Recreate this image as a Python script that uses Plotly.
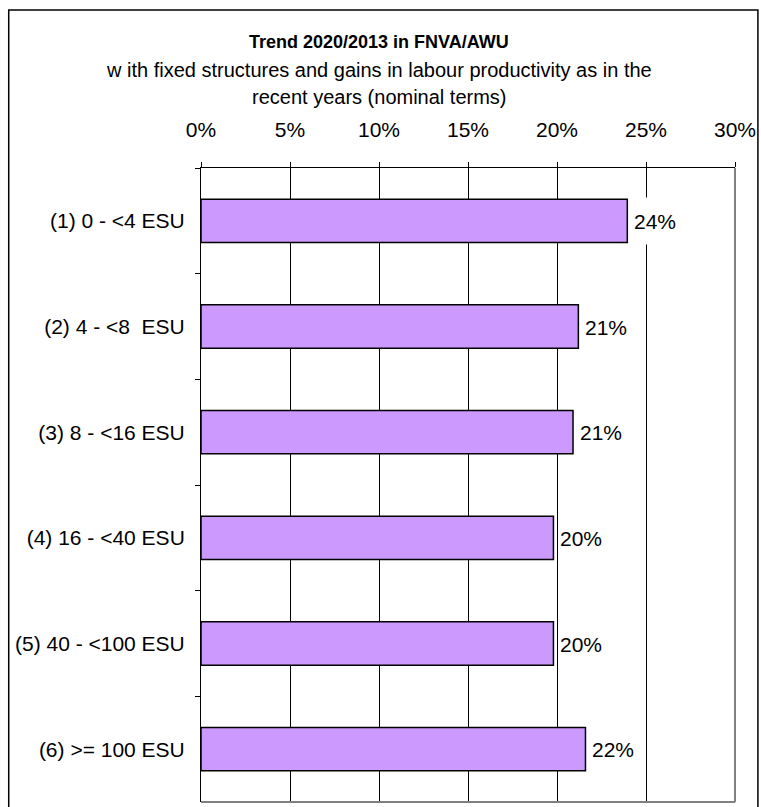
import plotly.graph_objects as go

# Size classes (ESU) and the 2020/2013 change in FNVA/AWU
classes = [
    "(1) 0 - <4 ESU",
    "(2) 4 - <8  ESU",
    "(3) 8 - <16 ESU",
    "(4) 16 - <40 ESU",
    "(5) 40 - <100 ESU",
    "(6) >= 100 ESU",
]
trend = [0.2395, 0.212, 0.209, 0.198, 0.198, 0.216]
x_ticks = [0, 0.05, 0.10, 0.15, 0.20, 0.25, 0.30]

title_main = "Trend 2020/2013 in FNVA/AWU"
subtitle_1 = "w ith fixed structures and gains in labour productivity as in the"
subtitle_2 = "recent years (nominal terms)"

FONT = "Liberation Sans, Arial, sans-serif"
FS = 21
W, H = 761, 807
L, R, T, B = 201, 24, 168, 5
PW, PH = W - L - R, H - T - B


def px_x(p):
    return (p - L) / PW


def px_y(p):
    return (H - B - p) / PH


fig = go.Figure(
    go.Bar(
        x=trend,
        y=classes,
        orientation="h",
        marker=dict(color="#cc99ff", line=dict(color="#000000", width=1.5)),
        hoverinfo="skip",
    )
)

# value labels on a white box, right of each bar
for cls, val in zip(classes, trend):
    fig.add_annotation(
        x=val, y=cls, xref="x", yref="y",
        text=f"{val:.0%}", showarrow=False,
        xanchor="left", yanchor="middle", xshift=5,
        bgcolor="#ffffff", borderpad=1, height=44,
        font=dict(family=FONT, size=FS, color="#000000"),
    )

fig.update_layout(
    width=W,
    height=H,
    margin=dict(l=L, r=R, t=T, b=B),
    paper_bgcolor="#ffffff",
    plot_bgcolor="#ffffff",
    showlegend=False,
    bargap=0.59,
    font=dict(family=FONT, size=FS, color="#000000"),
)

fig.update_xaxes(
    side="top",
    range=[0, 0.30],
    tickvals=x_ticks,
    tickformat=".0%",
    showgrid=True,
    gridcolor="#000000",
    gridwidth=1,
    zeroline=False,
    showline=True,
    linecolor="#000000",
    linewidth=1,
    ticks="outside",
    ticklen=5,
    tickcolor="#000000",
    ticklabelstandoff=17,
    tickfont=dict(family=FONT, size=FS),
)

fig.update_yaxes(
    autorange="reversed",
    showgrid=False,
    zeroline=False,
    showline=True,
    linecolor="#000000",
    linewidth=1,
    ticks="outside",
    tickson="boundaries",
    ticklen=5,
    tickcolor="#000000",
    ticklabelstandoff=11,
    tickfont=dict(family=FONT, size=FS),
)

# grey right and bottom edges of the plot area
fig.add_shape(type="line", xref="paper", yref="paper", x0=1, x1=1, y0=0, y1=1,
              line=dict(color="#808080", width=2), layer="above")
fig.add_shape(type="line", xref="paper", yref="paper", x0=0, x1=1, y0=0, y1=0,
              line=dict(color="#808080", width=2), layer="above")

# chart frame (left, top, right)
fx0, fx1 = px_x(8), px_x(760)
fy_top, fy_bot = px_y(10), px_y(812)
fig.add_shape(type="path", xref="paper", yref="paper",
              path=f"M {fx0} {fy_bot} L {fx0} {fy_top} L {fx1} {fy_top} L {fx1} {fy_bot}",
              line=dict(color="#000000", width=1.5), layer="above")

cx = px_x(380)
fig.add_annotation(text=f"<b>{title_main}</b>", x=cx, y=px_y(42), xref="paper", yref="paper",
                   showarrow=False, xanchor="center", yanchor="middle",
                   font=dict(family=FONT, size=18))
fig.add_annotation(text=subtitle_1, x=cx, y=px_y(70), xref="paper", yref="paper",
                   showarrow=False, xanchor="center", yanchor="middle",
                   font=dict(family=FONT, size=20))
fig.add_annotation(text=subtitle_2, x=cx, y=px_y(97), xref="paper", yref="paper",
                   showarrow=False, xanchor="center", yanchor="middle",
                   font=dict(family=FONT, size=20))

fig.write_html("out.html")
